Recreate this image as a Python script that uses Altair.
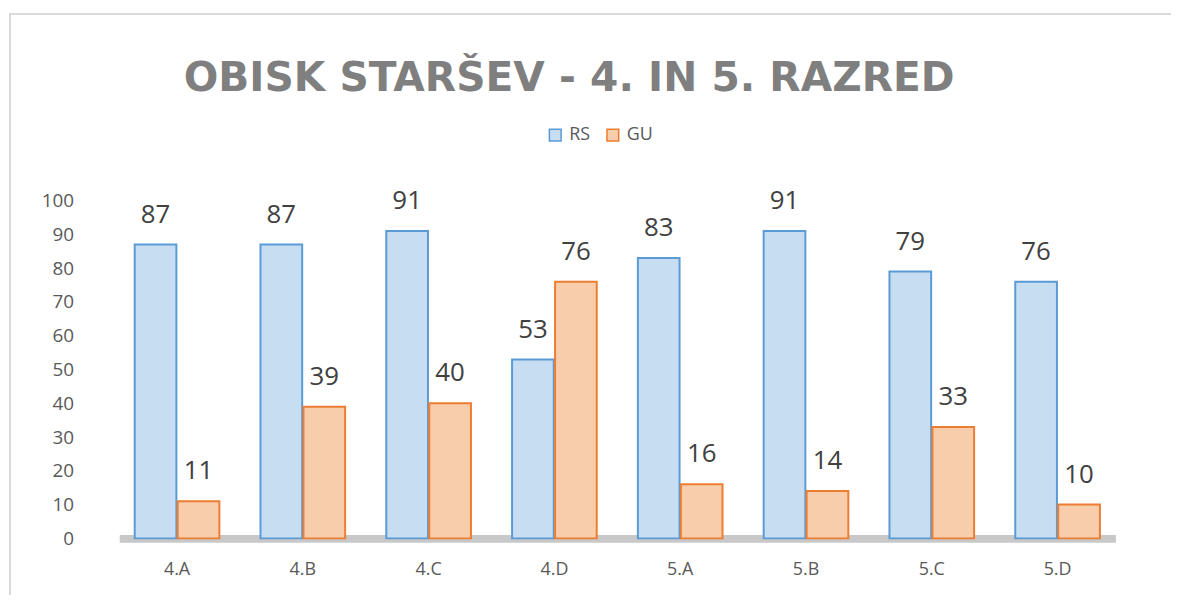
import altair as alt
import pandas as pd

TITLE = "OBISK STARŠEV - 4. IN 5. RAZRED"
classes = ["4.A", "4.B", "4.C", "4.D", "5.A", "5.B", "5.C", "5.D"]
rs = [87, 87, 91, 53, 83, 91, 79, 76]
gu = [11, 39, 40, 76, 16, 14, 33, 10]
series = ["RS", "GU"]
fills = ["#c6ddf2", "#f7cdab"]
strokes = ["#5b9bd5", "#ed7d31"]
yticks = list(range(0, 101, 10))

rows = []
for c, a, b in zip(classes, rs, gu):
    rows.append({"cls": c, "series": "RS", "value": a})
    rows.append({"cls": c, "series": "GU", "value": b})
df = pd.DataFrame(rows)
title_df = pd.DataFrame({"t": [TITLE]})

FONT = "Open Sans"

x = alt.X("cls:N", sort=classes, title=None,
          scale=alt.Scale(paddingInner=0.327, paddingOuter=0.123),
          axis=alt.Axis(labelAngle=0, ticks=False, domainColor="#c8c8c8", domainWidth=8, labelPadding=22,
                        labelFontSize=18))
xo = alt.XOffset("series:N", sort=series, scale=alt.Scale(paddingInner=0.03))
y = alt.Y("value:Q", scale=alt.Scale(domain=[0, 100]), title=None,
          axis=alt.Axis(values=yticks, grid=False, domain=False, ticks=False, labelPadding=46,
                        labelFontSize=19))

leg = alt.Legend(title=None, orient="none", legendX=430, legendY=-75, direction="horizontal",
                 symbolType="square", columnPadding=14)

bars = alt.Chart(df).mark_bar(strokeWidth=2).encode(
    x=x, xOffset=xo, y=y,
    fill=alt.Fill("series:N", sort=series, scale=alt.Scale(domain=series, range=fills), legend=leg),
    stroke=alt.Stroke("series:N", sort=series, scale=alt.Scale(domain=series, range=strokes), legend=leg),
)

labels = alt.Chart(df).mark_text(baseline="middle", dy=-30, fontSize=26, font=FONT, color="#404040").encode(
    x=x, xOffset=xo, y=y, text="value:Q"
)

frame = alt.Chart(title_df).mark_rect(fill="transparent", stroke="#d9d9d9", strokeWidth=2).encode(
    x=alt.value(-110), x2=alt.value(1100), y=alt.value(-188), y2=alt.value(430)
)

title = alt.Chart(title_df).mark_text(
    fontSize=41, font="DejaVu Sans", fontWeight="bold", color="#7f7f7f", align="center", baseline="alphabetic"
).encode(x=alt.value(453), y=alt.value(-110), text="t:N")

chart = alt.layer(frame, title, bars, labels).properties(
    width=1003, height=340,
    autosize=alt.AutoSizeParams(type="none"),
    padding={"left": 112, "top": 192, "right": 56, "bottom": 55},
    background="white",
).configure_view(stroke=None).configure_axis(
    labelFont=FONT, labelColor="#595959"
).configure_legend(
    labelFont=FONT, labelFontSize=18, labelColor="#595959", symbolSize=140, symbolStrokeWidth=1.5,
    labelOffset=5
)

chart.save("out.html", embed_options={"renderer": "svg", "actions": False})
